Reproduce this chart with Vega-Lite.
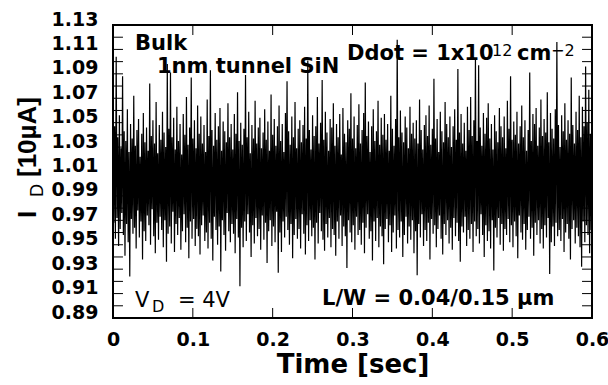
{
"$schema": "https://vega.github.io/schema/vega-lite/v6.json",
"width": 479, "height": 293,
"autosize": {"type": "none"},
"padding": {"left": 113, "top": 25, "right": 16, "bottom": 67},
"background": "white",
"resolve": {"axis": {"x": "independent", "y": "independent"}},
"config": {"view": {"stroke": "black", "strokeWidth": 2}, "axis": {"domain": false, "grid": false, "labelColor": "black", "titleColor": "black", "labelFlush": false, "labelOverlap": false}},
"datasets": {
"noise": [
{"t":0.000,"v":1.032},{"t":0.001,"v":0.968},{"t":0.002,"v":1.047},{"t":0.003,"v":0.955},{"t":0.004,"v":1.104},{"t":0.005,"v":0.972},{"t":0.006,"v":1.038},{"t":0.007,"v":0.949},{"t":0.008,"v":1.056},{"t":0.009,"v":0.963},
{"t":0.010,"v":1.029},{"t":0.011,"v":0.976},{"t":0.012,"v":1.088},{"t":0.013,"v":0.958},{"t":0.014,"v":1.043},{"t":0.015,"v":0.941},{"t":0.016,"v":1.035},{"t":0.017,"v":0.967},{"t":0.018,"v":1.061},{"t":0.019,"v":0.952},
{"t":0.020,"v":1.026},{"t":0.021,"v":0.924},{"t":0.022,"v":1.049},{"t":0.023,"v":0.971},{"t":0.024,"v":1.037},{"t":0.025,"v":0.959},{"t":0.026,"v":1.072},{"t":0.027,"v":0.964},{"t":0.028,"v":1.031},{"t":0.029,"v":0.947},
{"t":0.030,"v":1.044},{"t":0.031,"v":0.978},{"t":0.032,"v":1.053},{"t":0.033,"v":0.956},{"t":0.034,"v":1.022},{"t":0.035,"v":0.969},{"t":0.036,"v":1.041},{"t":0.037,"v":0.938},{"t":0.038,"v":1.058},{"t":0.039,"v":0.961},
{"t":0.040,"v":1.034},{"t":0.041,"v":0.953},{"t":0.042,"v":1.046},{"t":0.043,"v":0.974},{"t":0.044,"v":1.027},{"t":0.045,"v":0.966},{"t":0.046,"v":1.082},{"t":0.047,"v":0.950},{"t":0.048,"v":1.039},{"t":0.049,"v":0.979},
{"t":0.050,"v":1.052},{"t":0.051,"v":0.957},{"t":0.052,"v":1.033},{"t":0.053,"v":0.943},{"t":0.054,"v":1.067},{"t":0.055,"v":0.968},{"t":0.056,"v":1.025},{"t":0.057,"v":0.954},{"t":0.058,"v":1.048},{"t":0.059,"v":0.973},
{"t":0.060,"v":1.036},{"t":0.061,"v":0.962},{"t":0.062,"v":1.059},{"t":0.063,"v":0.948},{"t":0.064,"v":1.042},{"t":0.065,"v":0.970},{"t":0.066,"v":1.030},{"t":0.067,"v":0.936},{"t":0.068,"v":1.098},{"t":0.069,"v":0.959},
{"t":0.070,"v":1.045},{"t":0.071,"v":0.965},{"t":0.072,"v":1.091},{"t":0.073,"v":0.951},{"t":0.074,"v":1.038},{"t":0.075,"v":0.977},{"t":0.076,"v":1.054},{"t":0.077,"v":0.944},{"t":0.078,"v":1.028},{"t":0.079,"v":0.967},
{"t":0.080,"v":1.063},{"t":0.081,"v":0.958},{"t":0.082,"v":1.035},{"t":0.083,"v":0.972},{"t":0.084,"v":1.049},{"t":0.085,"v":0.946},{"t":0.086,"v":1.024},{"t":0.087,"v":0.961},{"t":0.088,"v":1.057},{"t":0.089,"v":0.975},
{"t":0.090,"v":1.040},{"t":0.091,"v":0.952},{"t":0.092,"v":1.071},{"t":0.093,"v":0.964},{"t":0.094,"v":1.032},{"t":0.095,"v":0.939},{"t":0.096,"v":1.046},{"t":0.097,"v":0.969},{"t":0.098,"v":1.087},{"t":0.099,"v":0.955},
{"t":0.100,"v":1.037},{"t":0.101,"v":0.971},{"t":0.102,"v":1.052},{"t":0.103,"v":0.949},{"t":0.104,"v":1.029},{"t":0.105,"v":0.963},{"t":0.106,"v":1.064},{"t":0.107,"v":0.957},{"t":0.108,"v":1.041},{"t":0.109,"v":0.942},
{"t":0.110,"v":1.055},{"t":0.111,"v":0.966},{"t":0.112,"v":1.033},{"t":0.113,"v":0.974},{"t":0.114,"v":1.048},{"t":0.115,"v":0.953},{"t":0.116,"v":1.026},{"t":0.117,"v":0.960},{"t":0.118,"v":1.069},{"t":0.119,"v":0.947},
{"t":0.120,"v":1.039},{"t":0.121,"v":0.968},{"t":0.122,"v":1.093},{"t":0.123,"v":0.955},{"t":0.124,"v":1.044},{"t":0.125,"v":0.937},{"t":0.126,"v":1.031},{"t":0.127,"v":0.973},{"t":0.128,"v":1.058},{"t":0.129,"v":0.962},
{"t":0.130,"v":1.036},{"t":0.131,"v":0.950},{"t":0.132,"v":1.047},{"t":0.133,"v":0.965},{"t":0.134,"v":1.062},{"t":0.135,"v":0.928},{"t":0.136,"v":1.027},{"t":0.137,"v":0.970},{"t":0.138,"v":1.051},{"t":0.139,"v":0.958},
{"t":0.140,"v":1.043},{"t":0.141,"v":0.945},{"t":0.142,"v":1.034},{"t":0.143,"v":0.976},{"t":0.144,"v":1.066},{"t":0.145,"v":0.961},{"t":0.146,"v":1.038},{"t":0.147,"v":0.952},{"t":0.148,"v":1.049},{"t":0.149,"v":0.967},
{"t":0.150,"v":1.028},{"t":0.151,"v":0.959},{"t":0.152,"v":1.057},{"t":0.153,"v":0.943},{"t":0.154,"v":1.041},{"t":0.155,"v":0.971},{"t":0.156,"v":1.075},{"t":0.157,"v":0.956},{"t":0.158,"v":1.035},{"t":0.159,"v":0.916},
{"t":0.160,"v":1.050},{"t":0.161,"v":0.964},{"t":0.162,"v":1.032},{"t":0.163,"v":0.948},{"t":0.164,"v":1.045},{"t":0.165,"v":0.969},{"t":0.166,"v":1.089},{"t":0.167,"v":0.953},{"t":0.168,"v":1.038},{"t":0.169,"v":0.975},
{"t":0.170,"v":1.059},{"t":0.171,"v":0.960},{"t":0.172,"v":1.025},{"t":0.173,"v":0.940},{"t":0.174,"v":1.048},{"t":0.175,"v":0.966},{"t":0.176,"v":1.037},{"t":0.177,"v":0.951},{"t":0.178,"v":1.068},{"t":0.179,"v":0.972},
{"t":0.180,"v":1.033},{"t":0.181,"v":0.957},{"t":0.182,"v":1.046},{"t":0.183,"v":0.963},{"t":0.184,"v":1.054},{"t":0.185,"v":0.946},{"t":0.186,"v":1.029},{"t":0.187,"v":0.974},{"t":0.188,"v":1.042},{"t":0.189,"v":0.954},
{"t":0.190,"v":1.061},{"t":0.191,"v":0.968},{"t":0.192,"v":1.036},{"t":0.193,"v":0.935},{"t":0.194,"v":1.051},{"t":0.195,"v":0.961},{"t":0.196,"v":1.027},{"t":0.197,"v":0.970},{"t":0.198,"v":1.073},{"t":0.199,"v":0.949},
{"t":0.200,"v":1.040},{"t":0.201,"v":0.965},{"t":0.202,"v":1.053},{"t":0.203,"v":0.952},{"t":0.204,"v":1.031},{"t":0.205,"v":0.977},{"t":0.206,"v":1.047},{"t":0.207,"v":0.927},{"t":0.208,"v":1.064},{"t":0.209,"v":0.960},
{"t":0.210,"v":1.035},{"t":0.211,"v":0.944},{"t":0.212,"v":1.049},{"t":0.213,"v":0.969},{"t":0.214,"v":1.026},{"t":0.215,"v":0.956},{"t":0.216,"v":1.058},{"t":0.217,"v":0.973},{"t":0.218,"v":1.084},{"t":0.219,"v":0.962},
{"t":0.220,"v":1.043},{"t":0.221,"v":0.950},{"t":0.222,"v":1.032},{"t":0.223,"v":0.967},{"t":0.224,"v":1.055},{"t":0.225,"v":0.939},{"t":0.226,"v":1.038},{"t":0.227,"v":0.958},{"t":0.228,"v":1.067},{"t":0.229,"v":0.971},
{"t":0.230,"v":1.029},{"t":0.231,"v":0.955},{"t":0.232,"v":1.045},{"t":0.233,"v":0.963},{"t":0.234,"v":1.052},{"t":0.235,"v":0.947},{"t":0.236,"v":1.034},{"t":0.237,"v":0.975},{"t":0.238,"v":1.048},{"t":0.239,"v":0.959},
{"t":0.240,"v":1.063},{"t":0.241,"v":0.942},{"t":0.242,"v":1.037},{"t":0.243,"v":0.966},{"t":0.244,"v":1.101},{"t":0.245,"v":0.953},{"t":0.246,"v":1.044},{"t":0.247,"v":0.970},{"t":0.248,"v":1.028},{"t":0.249,"v":0.957},
{"t":0.250,"v":1.056},{"t":0.251,"v":0.964},{"t":0.252,"v":1.039},{"t":0.253,"v":0.938},{"t":0.254,"v":1.047},{"t":0.255,"v":0.968},{"t":0.256,"v":1.071},{"t":0.257,"v":0.951},{"t":0.258,"v":1.033},{"t":0.259,"v":0.976},
{"t":0.260,"v":1.050},{"t":0.261,"v":0.961},{"t":0.262,"v":1.085},{"t":0.263,"v":0.954},{"t":0.264,"v":1.036},{"t":0.265,"v":0.945},{"t":0.266,"v":1.059},{"t":0.267,"v":0.967},{"t":0.268,"v":1.042},{"t":0.269,"v":0.956},
{"t":0.270,"v":1.027},{"t":0.271,"v":0.972},{"t":0.272,"v":1.053},{"t":0.273,"v":0.948},{"t":0.274,"v":1.046},{"t":0.275,"v":0.963},{"t":0.276,"v":1.066},{"t":0.277,"v":0.958},{"t":0.278,"v":1.031},{"t":0.279,"v":0.941},
{"t":0.280,"v":1.049},{"t":0.281,"v":0.969},{"t":0.282,"v":1.038},{"t":0.283,"v":0.955},{"t":0.284,"v":1.057},{"t":0.285,"v":0.974},{"t":0.286,"v":1.024},{"t":0.287,"v":0.949},{"t":0.288,"v":1.062},{"t":0.289,"v":0.965},
{"t":0.290,"v":1.041},{"t":0.291,"v":0.957},{"t":0.292,"v":1.034},{"t":0.293,"v":0.931},{"t":0.294,"v":1.052},{"t":0.295,"v":0.970},{"t":0.296,"v":1.045},{"t":0.297,"v":0.960},{"t":0.298,"v":1.074},{"t":0.299,"v":0.952},
{"t":0.300,"v":1.037},{"t":0.301,"v":0.966},{"t":0.302,"v":1.055},{"t":0.303,"v":0.946},{"t":0.304,"v":1.029},{"t":0.305,"v":0.973},{"t":0.306,"v":1.048},{"t":0.307,"v":0.958},{"t":0.308,"v":1.065},{"t":0.309,"v":0.962},
{"t":0.310,"v":1.033},{"t":0.311,"v":0.950},{"t":0.312,"v":1.044},{"t":0.313,"v":0.968},{"t":0.314,"v":1.058},{"t":0.315,"v":0.943},{"t":0.316,"v":1.083},{"t":0.317,"v":0.964},{"t":0.318,"v":1.039},{"t":0.319,"v":0.975},
{"t":0.320,"v":1.051},{"t":0.321,"v":0.955},{"t":0.322,"v":1.026},{"t":0.323,"v":0.961},{"t":0.324,"v":1.047},{"t":0.325,"v":0.937},{"t":0.326,"v":1.061},{"t":0.327,"v":0.969},{"t":0.328,"v":1.035},{"t":0.329,"v":0.953},
{"t":0.330,"v":1.043},{"t":0.331,"v":0.972},{"t":0.332,"v":1.068},{"t":0.333,"v":0.948},{"t":0.334,"v":1.032},{"t":0.335,"v":0.965},{"t":0.336,"v":1.054},{"t":0.337,"v":0.957},{"t":0.338,"v":1.040},{"t":0.339,"v":0.934},
{"t":0.340,"v":1.057},{"t":0.341,"v":0.963},{"t":0.342,"v":1.036},{"t":0.343,"v":0.971},{"t":0.344,"v":1.049},{"t":0.345,"v":0.952},{"t":0.346,"v":1.027},{"t":0.347,"v":0.966},{"t":0.348,"v":1.072},{"t":0.349,"v":0.944},
{"t":0.350,"v":1.045},{"t":0.351,"v":0.960},{"t":0.352,"v":1.031},{"t":0.353,"v":0.974},{"t":0.354,"v":1.053},{"t":0.355,"v":0.947},{"t":0.356,"v":1.118},{"t":0.357,"v":0.962},{"t":0.358,"v":1.038},{"t":0.359,"v":0.956},
{"t":0.360,"v":1.060},{"t":0.361,"v":0.969},{"t":0.362,"v":1.042},{"t":0.363,"v":0.940},{"t":0.364,"v":1.034},{"t":0.365,"v":0.958},{"t":0.366,"v":1.055},{"t":0.367,"v":0.973},{"t":0.368,"v":1.046},{"t":0.369,"v":0.951},
{"t":0.370,"v":1.029},{"t":0.371,"v":0.965},{"t":0.372,"v":1.063},{"t":0.373,"v":0.954},{"t":0.374,"v":1.041},{"t":0.375,"v":0.970},{"t":0.376,"v":1.050},{"t":0.377,"v":0.943},{"t":0.378,"v":1.037},{"t":0.379,"v":0.961},
{"t":0.380,"v":1.052},{"t":0.381,"v":0.925},{"t":0.382,"v":1.033},{"t":0.383,"v":0.967},{"t":0.384,"v":1.069},{"t":0.385,"v":0.956},{"t":0.386,"v":1.044},{"t":0.387,"v":0.975},{"t":0.388,"v":1.028},{"t":0.389,"v":0.949},
{"t":0.390,"v":1.048},{"t":0.391,"v":0.962},{"t":0.392,"v":1.056},{"t":0.393,"v":0.953},{"t":0.394,"v":1.039},{"t":0.395,"v":0.968},{"t":0.396,"v":1.064},{"t":0.397,"v":0.938},{"t":0.398,"v":1.032},{"t":0.399,"v":0.971},
{"t":0.400,"v":1.045},{"t":0.401,"v":0.959},{"t":0.402,"v":1.086},{"t":0.403,"v":0.966},{"t":0.404,"v":1.037},{"t":0.405,"v":0.948},{"t":0.406,"v":1.053},{"t":0.407,"v":0.963},{"t":0.408,"v":1.026},{"t":0.409,"v":0.974},
{"t":0.410,"v":1.059},{"t":0.411,"v":0.955},{"t":0.412,"v":1.043},{"t":0.413,"v":0.942},{"t":0.414,"v":1.034},{"t":0.415,"v":0.967},{"t":0.416,"v":1.067},{"t":0.417,"v":0.958},{"t":0.418,"v":1.049},{"t":0.419,"v":0.970},
{"t":0.420,"v":1.038},{"t":0.421,"v":0.951},{"t":0.422,"v":1.055},{"t":0.423,"v":0.964},{"t":0.424,"v":1.030},{"t":0.425,"v":0.946},{"t":0.426,"v":1.047},{"t":0.427,"v":0.972},{"t":0.428,"v":1.061},{"t":0.429,"v":0.957},
{"t":0.430,"v":1.036},{"t":0.431,"v":0.968},{"t":0.432,"v":1.094},{"t":0.433,"v":0.953},{"t":0.434,"v":1.042},{"t":0.435,"v":0.936},{"t":0.436,"v":1.057},{"t":0.437,"v":0.965},{"t":0.438,"v":1.033},{"t":0.439,"v":0.960},
{"t":0.440,"v":1.050},{"t":0.441,"v":0.973},{"t":0.442,"v":1.027},{"t":0.443,"v":0.949},{"t":0.444,"v":1.063},{"t":0.445,"v":0.962},{"t":0.446,"v":1.044},{"t":0.447,"v":0.955},{"t":0.448,"v":1.071},{"t":0.449,"v":0.967},
{"t":0.450,"v":1.039},{"t":0.451,"v":0.944},{"t":0.452,"v":1.052},{"t":0.453,"v":0.969},{"t":0.454,"v":1.103},{"t":0.455,"v":0.957},{"t":0.456,"v":1.035},{"t":0.457,"v":0.963},{"t":0.458,"v":1.097},{"t":0.459,"v":0.951},
{"t":0.460,"v":1.046},{"t":0.461,"v":0.975},{"t":0.462,"v":1.031},{"t":0.463,"v":0.958},{"t":0.464,"v":1.058},{"t":0.465,"v":0.940},{"t":0.466,"v":1.041},{"t":0.467,"v":0.966},{"t":0.468,"v":1.054},{"t":0.469,"v":0.953},
{"t":0.470,"v":1.066},{"t":0.471,"v":0.961},{"t":0.472,"v":1.037},{"t":0.473,"v":0.947},{"t":0.474,"v":1.049},{"t":0.475,"v":0.970},{"t":0.476,"v":1.028},{"t":0.477,"v":0.929},{"t":0.478,"v":1.056},{"t":0.479,"v":0.964},
{"t":0.480,"v":1.043},{"t":0.481,"v":0.956},{"t":0.482,"v":1.034},{"t":0.483,"v":0.972},{"t":0.484,"v":1.062},{"t":0.485,"v":0.950},{"t":0.486,"v":1.047},{"t":0.487,"v":0.967},{"t":0.488,"v":1.038},{"t":0.489,"v":0.945},
{"t":0.490,"v":1.055},{"t":0.491,"v":0.963},{"t":0.492,"v":1.029},{"t":0.493,"v":0.958},{"t":0.494,"v":1.068},{"t":0.495,"v":0.971},{"t":0.496,"v":1.045},{"t":0.497,"v":0.952},{"t":0.498,"v":1.088},{"t":0.499,"v":0.966},
{"t":0.500,"v":1.036},{"t":0.501,"v":0.948},{"t":0.502,"v":1.051},{"t":0.503,"v":0.969},{"t":0.504,"v":1.040},{"t":0.505,"v":0.957},{"t":0.506,"v":1.059},{"t":0.507,"v":0.939},{"t":0.508,"v":1.033},{"t":0.509,"v":0.974},
{"t":0.510,"v":1.047},{"t":0.511,"v":0.960},{"t":0.512,"v":1.064},{"t":0.513,"v":0.954},{"t":0.514,"v":1.038},{"t":0.515,"v":0.967},{"t":0.516,"v":1.052},{"t":0.517,"v":0.946},{"t":0.518,"v":1.027},{"t":0.519,"v":0.962},
{"t":0.520,"v":1.044},{"t":0.521,"v":0.973},{"t":0.522,"v":1.091},{"t":0.523,"v":0.955},{"t":0.524,"v":1.035},{"t":0.525,"v":0.964},{"t":0.526,"v":1.057},{"t":0.527,"v":0.941},{"t":0.528,"v":1.049},{"t":0.529,"v":0.968},
{"t":0.530,"v":1.062},{"t":0.531,"v":0.958},{"t":0.532,"v":1.031},{"t":0.533,"v":0.970},{"t":0.534,"v":1.046},{"t":0.535,"v":0.951},{"t":0.536,"v":1.069},{"t":0.537,"v":0.963},{"t":0.538,"v":1.039},{"t":0.539,"v":0.947},
{"t":0.540,"v":1.053},{"t":0.541,"v":0.966},{"t":0.542,"v":1.042},{"t":0.543,"v":0.956},{"t":0.544,"v":1.075},{"t":0.545,"v":0.972},{"t":0.546,"v":1.034},{"t":0.547,"v":0.926},{"t":0.548,"v":1.058},{"t":0.549,"v":0.952},
{"t":0.550,"v":1.045},{"t":0.551,"v":0.965},{"t":0.552,"v":1.037},{"t":0.553,"v":0.949},{"t":0.554,"v":1.061},{"t":0.555,"v":0.968},{"t":0.556,"v":1.116},{"t":0.557,"v":0.957},{"t":0.558,"v":1.048},{"t":0.559,"v":0.962},
{"t":0.560,"v":1.030},{"t":0.561,"v":0.953},{"t":0.562,"v":1.056},{"t":0.563,"v":0.971},{"t":0.564,"v":1.043},{"t":0.565,"v":0.944},{"t":0.566,"v":1.066},{"t":0.567,"v":0.960},{"t":0.568,"v":1.036},{"t":0.569,"v":0.967},
{"t":0.570,"v":1.052},{"t":0.571,"v":0.955},{"t":0.572,"v":1.041},{"t":0.573,"v":0.938},{"t":0.574,"v":1.087},{"t":0.575,"v":0.963},{"t":0.576,"v":1.048},{"t":0.577,"v":0.970},{"t":0.578,"v":1.033},{"t":0.579,"v":0.951},
{"t":0.580,"v":1.059},{"t":0.581,"v":0.964},{"t":0.582,"v":1.044},{"t":0.583,"v":0.957},{"t":0.584,"v":1.072},{"t":0.585,"v":0.948},{"t":0.586,"v":1.038},{"t":0.587,"v":0.932},{"t":0.588,"v":1.063},{"t":0.589,"v":0.969},
{"t":0.590,"v":1.047},{"t":0.591,"v":0.952},{"t":0.592,"v":1.096},{"t":0.593,"v":0.966},{"t":0.594,"v":1.050},{"t":0.595,"v":0.958},{"t":0.596,"v":1.077},{"t":0.597,"v":0.943},{"t":0.598,"v":1.041},{"t":0.599,"v":0.962},
{"t":0.600,"v":1.049}
],
"tickSegs": [
{"id":"L90","t":0,"v":0.90},{"id":"L90","t":0.0125,"v":0.90},{"id":"L91","t":0,"v":0.91},{"id":"L91","t":0.0125,"v":0.91},{"id":"L92","t":0,"v":0.92},{"id":"L92","t":0.0125,"v":0.92},{"id":"L93","t":0,"v":0.93},{"id":"L93","t":0.0125,"v":0.93},
{"id":"L94","t":0,"v":0.94},{"id":"L94","t":0.0125,"v":0.94},{"id":"L95","t":0,"v":0.95},{"id":"L95","t":0.0125,"v":0.95},{"id":"L96","t":0,"v":0.96},{"id":"L96","t":0.0125,"v":0.96},{"id":"L97","t":0,"v":0.97},{"id":"L97","t":0.0125,"v":0.97},
{"id":"L98","t":0,"v":0.98},{"id":"L98","t":0.0125,"v":0.98},{"id":"L99","t":0,"v":0.99},{"id":"L99","t":0.0125,"v":0.99},{"id":"L100","t":0,"v":1.00},{"id":"L100","t":0.0125,"v":1.00},{"id":"L101","t":0,"v":1.01},{"id":"L101","t":0.0125,"v":1.01},
{"id":"L102","t":0,"v":1.02},{"id":"L102","t":0.0125,"v":1.02},{"id":"L103","t":0,"v":1.03},{"id":"L103","t":0.0125,"v":1.03},{"id":"L104","t":0,"v":1.04},{"id":"L104","t":0.0125,"v":1.04},{"id":"L105","t":0,"v":1.05},{"id":"L105","t":0.0125,"v":1.05},
{"id":"L106","t":0,"v":1.06},{"id":"L106","t":0.0125,"v":1.06},{"id":"L107","t":0,"v":1.07},{"id":"L107","t":0.0125,"v":1.07},{"id":"L108","t":0,"v":1.08},{"id":"L108","t":0.0125,"v":1.08},{"id":"L109","t":0,"v":1.09},{"id":"L109","t":0.0125,"v":1.09},
{"id":"L110","t":0,"v":1.10},{"id":"L110","t":0.0125,"v":1.10},{"id":"L111","t":0,"v":1.11},{"id":"L111","t":0.0125,"v":1.11},{"id":"L112","t":0,"v":1.12},{"id":"L112","t":0.0125,"v":1.12},
{"id":"R90","t":0.5875,"v":0.90},{"id":"R90","t":0.6,"v":0.90},{"id":"R91","t":0.5875,"v":0.91},{"id":"R91","t":0.6,"v":0.91},{"id":"R92","t":0.5875,"v":0.92},{"id":"R92","t":0.6,"v":0.92},{"id":"R93","t":0.5875,"v":0.93},{"id":"R93","t":0.6,"v":0.93},
{"id":"R94","t":0.5875,"v":0.94},{"id":"R94","t":0.6,"v":0.94},{"id":"R95","t":0.5875,"v":0.95},{"id":"R95","t":0.6,"v":0.95},{"id":"R96","t":0.5875,"v":0.96},{"id":"R96","t":0.6,"v":0.96},{"id":"R97","t":0.5875,"v":0.97},{"id":"R97","t":0.6,"v":0.97},
{"id":"R98","t":0.5875,"v":0.98},{"id":"R98","t":0.6,"v":0.98},{"id":"R99","t":0.5875,"v":0.99},{"id":"R99","t":0.6,"v":0.99},{"id":"R100","t":0.5875,"v":1.00},{"id":"R100","t":0.6,"v":1.00},{"id":"R101","t":0.5875,"v":1.01},{"id":"R101","t":0.6,"v":1.01},
{"id":"R102","t":0.5875,"v":1.02},{"id":"R102","t":0.6,"v":1.02},{"id":"R103","t":0.5875,"v":1.03},{"id":"R103","t":0.6,"v":1.03},{"id":"R104","t":0.5875,"v":1.04},{"id":"R104","t":0.6,"v":1.04},{"id":"R105","t":0.5875,"v":1.05},{"id":"R105","t":0.6,"v":1.05},
{"id":"R106","t":0.5875,"v":1.06},{"id":"R106","t":0.6,"v":1.06},{"id":"R107","t":0.5875,"v":1.07},{"id":"R107","t":0.6,"v":1.07},{"id":"R108","t":0.5875,"v":1.08},{"id":"R108","t":0.6,"v":1.08},{"id":"R109","t":0.5875,"v":1.09},{"id":"R109","t":0.6,"v":1.09},
{"id":"R110","t":0.5875,"v":1.10},{"id":"R110","t":0.6,"v":1.10},{"id":"R111","t":0.5875,"v":1.11},{"id":"R111","t":0.6,"v":1.11},{"id":"R112","t":0.5875,"v":1.12},{"id":"R112","t":0.6,"v":1.12},
{"id":"B1","t":0.1,"v":0.89},{"id":"B1","t":0.1,"v":0.8982},{"id":"B2","t":0.2,"v":0.89},{"id":"B2","t":0.2,"v":0.8982},{"id":"B3","t":0.3,"v":0.89},{"id":"B3","t":0.3,"v":0.8982},{"id":"B4","t":0.4,"v":0.89},{"id":"B4","t":0.4,"v":0.8982},{"id":"B5","t":0.5,"v":0.89},{"id":"B5","t":0.5,"v":0.8982},
{"id":"T1","t":0.1,"v":1.1218},{"id":"T1","t":0.1,"v":1.13},{"id":"T2","t":0.2,"v":1.1218},{"id":"T2","t":0.2,"v":1.13},{"id":"T3","t":0.3,"v":1.1218},{"id":"T3","t":0.3,"v":1.13},{"id":"T4","t":0.4,"v":1.1218},{"id":"T4","t":0.4,"v":1.13},{"id":"T5","t":0.5,"v":1.1218},{"id":"T5","t":0.5,"v":1.13}
],
"boldNotes": [
{"x":0.0276,"y":1.1095,"label":"Bulk"},
{"x":0.0551,"y":1.0907,"label":"1nm tunnel SiN"},
{"x":0.2931,"y":1.1013,"label":"Ddot = 1x10"},
{"x":0.5061,"y":1.1013,"label":"cm"},
{"x":0.2618,"y":0.9006,"label":"L/W = 0.04/0.15 µm"}
],
"plainNotes": [
{"x":0.0276,"y":0.899,"label":"V"},
{"x":0.0814,"y":0.899,"label":"= 4V"}
],
"smallNotes": [
{"x":0.4748,"y":1.1046,"label":"12"},
{"x":0.5487,"y":1.1046,"label":"−2"},
{"x":0.0489,"y":0.8949,"label":"D"}
],
"yTitle": [
{"x":-0.0965,"y":0.9719,"label":"I"},
{"x":-0.0965,"y":1.0055,"label":"[10µA]"}
],
"yTitleSub": [
{"x":-0.0877,"y":0.9891,"label":"D"}
]
},
"layer": [
{
"data": {"name": "noise"},
"mark": {"type": "line", "color": "black", "strokeWidth": 1.2, "clip": true},
"encoding": {
"x": {"field": "t", "type": "quantitative", "scale": {"domain": [0, 0.6], "nice": false, "zero": false},
"axis": {"orient": "bottom", "ticks": false, "labelOverlap": false, "values": [0, 0.1, 0.2, 0.3, 0.4, 0.5, 0.6], "format": "~g", "labelPadding": 27, "labelBaseline": "alphabetic", "labelFont": "DejaVu Sans", "labelFontWeight": "bold", "labelFontSize": 19, "title": "Time [sec]", "titleFont": "DejaVu Sans", "titleFontWeight": "bold", "titleFontSize": 26, "titleBaseline": "alphabetic", "titleY": 54}},
"y": {"field": "v", "type": "quantitative", "scale": {"domain": [0.89, 1.13], "nice": false, "zero": false},
"axis": {"orient": "left", "ticks": false, "labelOverlap": false, "values": [0.89,0.91,0.93,0.95,0.97,0.99,1.01,1.03,1.05,1.07,1.09,1.11,1.13], "format": ".2f", "labelPadding": 15, "labelBaseline": "alphabetic", "labelFont": "DejaVu Sans", "labelFontWeight": "bold", "labelFontSize": 19, "title": null}}
}
},
{
"data": {"name": "tickSegs"},
"mark": {"type": "line", "color": "black", "strokeWidth": 1},
"encoding": {
"x": {"field": "t", "type": "quantitative", "axis": null},
"y": {"field": "v", "type": "quantitative", "axis": null},
"detail": {"field": "id", "type": "nominal"}
}
},
{
"data": {"name": "boldNotes"},
"mark": {"type": "text", "align": "left", "baseline": "alphabetic", "font": "DejaVu Sans", "fontWeight": "bold", "fontSize": 21, "color": "black"},
"encoding": {
"x": {"field": "x", "type": "quantitative", "axis": null},
"y": {"field": "y", "type": "quantitative", "axis": null},
"text": {"field": "label"}
}
},
{
"data": {"name": "plainNotes"},
"mark": {"type": "text", "align": "left", "baseline": "alphabetic", "font": "DejaVu Sans", "fontSize": 21, "color": "black"},
"encoding": {
"x": {"field": "x", "type": "quantitative", "axis": null},
"y": {"field": "y", "type": "quantitative", "axis": null},
"text": {"field": "label"}
}
},
{
"data": {"name": "smallNotes"},
"mark": {"type": "text", "align": "left", "baseline": "alphabetic", "font": "DejaVu Sans", "fontSize": 16, "color": "black"},
"encoding": {
"x": {"field": "x", "type": "quantitative", "axis": null},
"y": {"field": "y", "type": "quantitative", "axis": null},
"text": {"field": "label"}
}
},
{
"data": {"name": "yTitle"},
"mark": {"type": "text", "align": "left", "baseline": "alphabetic", "angle": 270, "font": "Liberation Sans", "fontWeight": "bold", "fontSize": 26, "color": "black"},
"encoding": {
"x": {"field": "x", "type": "quantitative", "axis": null},
"y": {"field": "y", "type": "quantitative", "axis": null},
"text": {"field": "label"}
}
},
{
"data": {"name": "yTitleSub"},
"mark": {"type": "text", "align": "left", "baseline": "alphabetic", "angle": 270, "font": "Liberation Sans", "fontSize": 18, "color": "black"},
"encoding": {
"x": {"field": "x", "type": "quantitative", "axis": null},
"y": {"field": "y", "type": "quantitative", "axis": null},
"text": {"field": "label"}
}
}
]
}
